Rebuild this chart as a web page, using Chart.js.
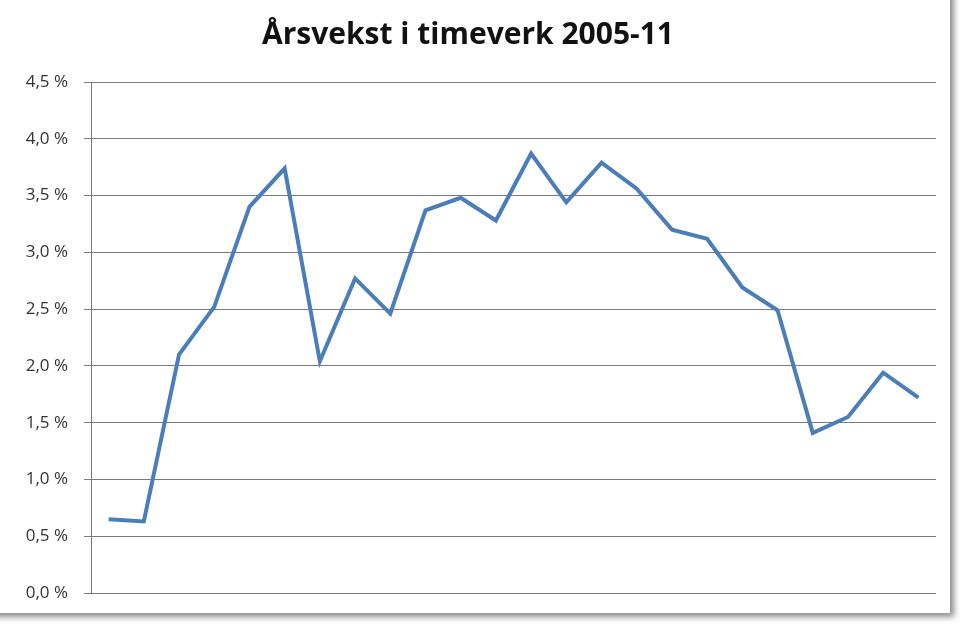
<!DOCTYPE html>
<html>
<head>
<meta charset="utf-8">
<script src="https://cdn.jsdelivr.net/npm/chart.js@4"></script>
<style>
    html, body { margin: 0; padding: 0; background: #fff; }
    #wrap { position: relative; width: 960px; height: 628px; overflow: hidden; }
    #frame {
        position: absolute; left: -10px; top: -10px;
        width: 960px; height: 623px;
        background: #fff;
        box-shadow: 3px 3px 6px 1px rgba(0,0,0,0.45);
    }
    #chart { position: absolute; left: 0; top: 0; }
</style>
</head>
<body>
<div id="wrap">
    <div id="frame"></div>
    <canvas id="chart" width="960" height="628"></canvas>
</div>
<script>
// quarterly, annual growth in hours worked (%)
const quarters = [
    "2006K1", "2006K2", "2006K3", "2006K4",
    "2007K1", "2007K2", "2007K3", "2007K4",
    "2008K1", "2008K2", "2008K3", "2008K4",
    "2009K1", "2009K2", "2009K3", "2009K4",
    "2010K1", "2010K2", "2010K3", "2010K4",
    "2011K1", "2011K2", "2011K3", "2011K4"
];
const growth = [
    0.65, 0.63, 2.10, 2.52, 3.40, 3.74, 2.04, 2.77,
    2.46, 3.37, 3.48, 3.28, 3.87, 3.44, 3.79, 3.56,
    3.20, 3.12, 2.69, 2.49, 1.41, 1.55, 1.94, 1.72
];
const yMin = 0;
const yMax = 4.5;
const yStep = 0.5;

const gridGray = "#7a7a7a";

new Chart(document.getElementById("chart").getContext("2d"), {
    type: "line",
    data: {
        labels: quarters,
        datasets: [{
            label: "Årsvekst i timeverk",
            data: growth,
            borderColor: "#4a7ebb",
            borderWidth: 4,
            pointRadius: 0,
            tension: 0,
            fill: false
        }]
    },
    options: {
        responsive: false,
        animation: false,
        layout: { padding: { left: 0, right: 24, top: 0, bottom: 35 } },
        scales: {
            x: {
                display: false,
                offset: true
            },
            y: {
                min: yMin,
                max: yMax,
                afterFit: s => { s.width = 91; },
                ticks: {
                    stepSize: yStep,
                    padding: 16,
                    color: "#333",
                    font: { family: "Open Sans", size: 17 },
                    callback: v => v.toFixed(1).replace(".", ",") + " %"
                },
                grid: {
                    color: gridGray,
                    lineWidth: 1,
                    tickLength: 7
                },
                border: { display: true, color: gridGray, width: 1 }
            }
        },
        plugins: {
            legend: { display: false },
            tooltip: { enabled: false },
            title: {
                display: true,
                text: "Årsvekst i timeverk 2005-11",
                color: "#111",
                font: { family: "Open Sans", size: 30, weight: "bold" },
                padding: { top: 17, bottom: 29 }
            }
        }
    }
});
</script>
</body>
</html>
